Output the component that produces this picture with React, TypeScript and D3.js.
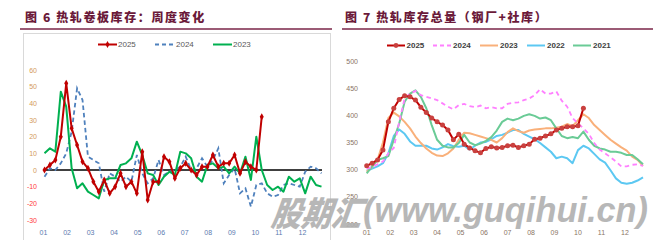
import React from "react";
import * as d3 from "d3";

const months = ["01", "02", "03", "04", "05", "06", "07", "08", "09", "10", "11", "12"];
const leftYTicks = [60, 50, 40, 30, 20, 10, 0, -10, -20, -30];
const rightYTicks = [500, 450, 400, 350, 300, 250, 200];

// 图6 周度变化
const chg2025 = [0, 3, 6, 20, 52, 25, 15, 5, 1, -7, -13, -6, -14, -10, -2, -10, -7, -14, 11, -18, -7, -7, 8, 5, -5, 1, 4, 0, -3, 2, 2, 9, 2, 4, 4, 9, -2, 5, 2, 0, 32];
const chg2024 = [-4, 1, 0, 4, 10, 23, 49, 42, 8, 6, 4, -13, -2, -4, -7, -4, -7, 9, -2, -8, -5, 6, -3, -1, 0, 2, 8, 0, 1, 7, 2, 6, 13, -8, -3, 1, -14, -11, -22, -9, -8, -14, -16, -15, -9, -8, -9, -10, -1, 2, 1, -2];
const chg2023 = [10, 13, 11, 47, 38, 1, -11, -8, -13, -15, -17, -6, -5, -5, 3, 4, 7, 17, 9, -2, -3, -9, -4, -1, -3, 11, 10, 7, -4, -7, 3, 4, 1, 2, -2, 2, -2, 8, -6, 20, 0, -9, -12, -10, -13, -4, -7, -5, -14, -4, -9, -10];

// 图7 库存总量
const inv2025 = [307, 312, 318, 336, 388, 413, 429, 436, 434, 428, 415, 405, 395, 388, 382, 373, 355, 365, 347, 340, 335, 331, 339, 342, 340, 341, 344, 345, 341, 344, 347, 356, 358, 362, 366, 373, 376, 379, 379, 381, 413];
const inv2024 = [302, 305, 310, 315, 330, 340, 388, 431, 440, 445, 437, 434, 431, 428, 422, 416, 411, 419, 421, 417, 415, 418, 413, 415, 413, 413, 421, 423, 424, 428, 431, 437, 448, 440, 440, 444, 427, 416, 395, 385, 376, 366, 349, 337, 330, 323, 315, 306, 306, 309, 310, 307];
const inv2023 = [296, 305, 318, 350, 395, 405, 398, 388, 376, 361, 349, 339, 331, 326, 325, 330, 339, 355, 368, 367, 364, 361, 358, 355, 350, 358, 369, 376, 371, 368, 372, 374, 375, 376, 376, 377, 379, 384, 380, 391, 402, 395, 382, 373, 364, 355, 348, 341, 335, 324, 318, 307];
const inv2022 = [298, 302, 306, 312, 330, 362, 374, 366, 352, 344, 344, 344, 339, 337, 341, 347, 343, 342, 344, 337, 344, 350, 351, 356, 362, 364, 368, 373, 373, 366, 361, 356, 349, 341, 333, 321, 324, 321, 312, 336, 344, 339, 329, 319, 313, 299, 284, 276, 274, 276, 280, 286];
const inv2021 = [293, 306, 318, 321, 325, 355, 385, 425, 440, 446, 434, 413, 382, 355, 344, 341, 341, 349, 364, 350, 345, 348, 353, 360, 372, 388, 394, 391, 394, 399, 402, 399, 394, 396, 391, 376, 362, 358, 360, 358, 370, 355, 344, 339, 337, 333, 333, 331, 327, 327, 319, 310];

const C = {
  title: "#6b1a3a",
  rule: "#7a2447",
  red: "#c00000",
  blueDash: "#4f81bd",
  green: "#00b050",
  pink: "#ff80ff",
  orange: "#f9b07a",
  lightBlue: "#5cc8f2",
  green21: "#6acb96",
};

const FONT = "'Liberation Sans', Arial, sans-serif";
const CJK = "'Noto Sans CJK SC', sans-serif";

export default function App() {
  const xL = d3.scaleLinear().domain([0, 51]).range([44.5, 321.5]);
  const yL = d3.scaleLinear().domain([-30, 60]).range([220, 70]);
  const xR = d3.scaleLinear().domain([0, 51]).range([366.7, 643]);
  const yR = d3.scaleLinear().domain([200, 500]).range([224, 61]);

  const lineL = d3.line<number>().x((d, i) => xL(i)).y((d) => yL(d));
  const lineR = d3.line<number>().x((d, i) => xR(i)).y((d) => yR(d));
  const diamond = d3.symbol(d3.symbolDiamond, 14)() as string;

  const leftLabelColor = (v: number) => (v < 0 ? "#ff3b3b" : "#d49a5a");

  return (
    <svg width={667} height={240} style={{ position: "absolute", left: 0, top: 0, background: "#fff" }}>
      {/* Titles */}
      <text x={25} y={22} fontFamily={CJK} fontWeight={900} fontSize={12} letterSpacing={1.6} fill={C.title}>
        图 6 热轧卷板库存：周度变化
      </text>
      <line x1={20} x2={332} y1={29} y2={29} stroke={C.rule} strokeWidth={1.5} />
      <text x={345} y={22} fontFamily={CJK} fontWeight={900} fontSize={12} letterSpacing={1.6} fill={C.title}>
        图 7 热轧库存总量（钢厂+社库）
      </text>
      <line x1={342} x2={653} y1={29} y2={29} stroke={C.rule} strokeWidth={1.5} />

      {/* Left frame */}
      <rect x={23.5} y={33.5} width={307} height={230} fill="none" stroke="#d9d9d9" strokeWidth={1} />

      {/* Left legend */}
      <g fontFamily={FONT} fontSize={8} fill="#595959">
        <line x1={98} x2={117} y1={44.5} y2={44.5} stroke={C.red} strokeWidth={2} />
        <path d={diamond} transform="translate(107.5,44.5)" fill={C.red} />
        <text x={118} y={47.3}>2025</text>
        <line x1={155} x2={174} y1={44.5} y2={44.5} stroke={C.blueDash} strokeWidth={1.8} strokeDasharray="4,3" />
        <text x={176} y={47.3}>2024</text>
        <line x1={213} x2={232} y1={44.5} y2={44.5} stroke={C.green} strokeWidth={2} />
        <text x={233} y={47.3}>2023</text>
      </g>

      {/* Left y labels */}
      <g fontFamily={FONT} fontSize={7} textAnchor="end">
        {leftYTicks.map((t) => (
          <text key={t} x={37} y={yL(t) + 2.5} fill={leftLabelColor(t)}>
            {t}
          </text>
        ))}
      </g>
      {/* Left x labels */}
      <g fontFamily={FONT} fontSize={7} textAnchor="middle" fill="#5b7bb0">
        {months.map((m, i) => (
          <text key={m} x={xL((i * 52) / 12) - 1} y={235}>
            {m}
          </text>
        ))}
      </g>
      {/* zero line */}
      <line x1={xL(0) - 1.5} x2={xL(51) + 0.5} y1={yL(0)} y2={yL(0)} stroke="#000" strokeWidth={1.3} />

      {/* Left series */}
      <path d={lineL(chg2024) as string} fill="none" stroke={C.blueDash} strokeWidth={1.8} strokeDasharray="4.5,3" />
      <path d={lineL(chg2023) as string} fill="none" stroke={C.green} strokeWidth={2} strokeLinejoin="round" />
      <path d={lineL(chg2025) as string} fill="none" stroke={C.red} strokeWidth={2} strokeLinejoin="round" />
      {chg2025.map((v, i) => (
        <path key={i} d={diamond} transform={`translate(${xL(i)},${yL(v)})`} fill={C.red} />
      ))}

      {/* Right legend */}
      <g fontFamily={FONT} fontSize={8} fontWeight="bold" fill="#404040">
        <line x1={387} x2={405} y1={45.5} y2={45.5} stroke={C.red} strokeWidth={2} />
        <circle cx={396} cy={45.5} r={2.4} fill="#c9413f" />
        <text x={406.5} y={48.3}>2025</text>
        <line x1={433} x2={452} y1={45.5} y2={45.5} stroke={C.pink} strokeWidth={1.8} strokeDasharray="4,3" />
        <text x={453} y={48.3}>2024</text>
        <line x1={480} x2={498} y1={45.5} y2={45.5} stroke={C.orange} strokeWidth={2} />
        <text x={500} y={48.3}>2023</text>
        <line x1={527} x2={545} y1={45.5} y2={45.5} stroke={C.lightBlue} strokeWidth={2} />
        <text x={547} y={48.3}>2022</text>
        <line x1={573} x2={591} y1={45.5} y2={45.5} stroke={C.green21} strokeWidth={2} />
        <text x={593} y={48.3}>2021</text>
      </g>

      {/* Right y labels */}
      <g fontFamily={FONT} fontSize={7} textAnchor="end" fill="#8a7565">
        {rightYTicks.map((t) => (
          <text key={t} x={358} y={yR(t) + 2.5}>
            {t}
          </text>
        ))}
      </g>
      {/* Right x labels */}
      <g fontFamily={FONT} fontSize={7} textAnchor="middle" fill="#8a7565">
        {months.map((m, i) => (
          <text key={m} x={xR((i * 52) / 12)} y={235}>
            {m}
          </text>
        ))}
      </g>

      {/* Right series */}
      <path d={lineR(inv2022) as string} fill="none" stroke={C.lightBlue} strokeWidth={2} strokeLinejoin="round" />
      <path d={lineR(inv2023) as string} fill="none" stroke={C.orange} strokeWidth={2} strokeLinejoin="round" />
      <path d={lineR(inv2021) as string} fill="none" stroke={C.green21} strokeWidth={2} strokeLinejoin="round" />
      <path d={lineR(inv2024) as string} fill="none" stroke={C.pink} strokeWidth={1.8} strokeDasharray="4.5,3.5" />
      <path d={lineR(inv2025) as string} fill="none" stroke={C.red} strokeWidth={2} strokeLinejoin="round" />
      {inv2025.map((v, i) => (
        <circle key={i} cx={xR(i)} cy={yR(v)} r={2.5} fill="#c9413f" />
      ))}

      {/* Watermark */}
      <g fill="#b0b0b0" fontWeight={900} fontStyle="italic" opacity={0.9}>
        <text x={272} y={226} fontFamily={CJK} fontSize={34} textLength={90} lengthAdjust="spacingAndGlyphs" transform="skewX(-8) translate(30,0)">
          股期汇
        </text>
        <text x={363} y={222} fontFamily={FONT} fontSize={35} textLength={285} lengthAdjust="spacingAndGlyphs">
          (www.guqihui.cn)
        </text>
      </g>
    </svg>
  );
}
